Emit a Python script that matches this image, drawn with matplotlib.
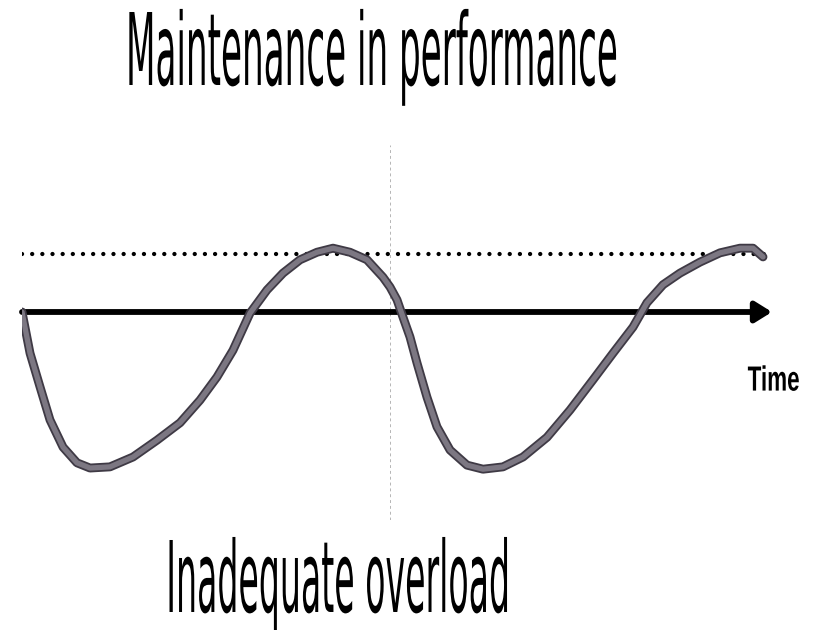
import matplotlib
matplotlib.use("Agg")
import matplotlib.pyplot as plt
import matplotlib.patheffects as pe
from matplotlib.transforms import Affine2D

# performance curve: time (0-100) vs performance relative to baseline (dotted level = 1)
time = [0, 1.07, 2.4, 3.73, 5.47, 7.33, 9.07, 11.73, 14.8, 18.0, 21.07, 23.73, 26.0,
        28.13, 30.4, 32.67, 34.8, 37.07, 39.33, 41.47, 43.73, 46.0, 48.13, 49.07,
        50.0, 50.8, 51.73, 52.67, 54.0, 55.33, 57.07, 59.33, 61.47, 64.13, 66.8,
        70.0, 73.07, 76.13, 78.8, 81.47, 83.33, 85.47, 87.73, 90.4, 93.07, 95.73,
        97.47, 98.8]
perf = [0, -0.71, -1.29, -1.86, -2.33, -2.6, -2.69, -2.67, -2.5, -2.21, -1.91,
        -1.52, -1.12, -0.66, -0.02, 0.38, 0.67, 0.9, 1.03, 1.1, 1.03, 0.9, 0.6,
        0.43, 0.21, -0.09, -0.43, -0.88, -1.47, -1.98, -2.38, -2.64, -2.71, -2.67,
        -2.5, -2.16, -1.69, -1.17, -0.71, -0.26, 0.16, 0.47, 0.67, 0.86, 1.02,
        1.1, 1.1, 0.95]

baseline = 0.0
target_level = 1.0
marker_time = 49.07

title = "Maintenance in performance"
bottom_label = "Inadequate overload"
axis_label = "Time"


class Stretch(pe.AbstractPathEffect):
    """Stretch glyphs vertically about the baseline (gives a tall, narrow face)."""
    def __init__(self, sy=1.0):
        super().__init__()
        self.sy = sy

    def draw_path(self, renderer, gc, tpath, affine, rgbFace=None):
        t = Affine2D().scale(1, self.sy) + affine
        renderer.draw_path(gc, tpath, t, rgbFace)


fig = plt.figure(figsize=(8.13, 6.3), dpi=100)
ax = fig.add_axes([22 / 813, 110 / 630, 750 / 813, 375 / 630])
ax.set_xlim(0, 100)
ax.set_ylim(-3.586, 2.879)
ax.axis("off")

# vertical faint dashed line
ax.axvline(marker_time, color="#b5b5b5", lw=0.7, ls=(0, (3, 3)), zorder=1)

# dotted target level
ax.plot([0, 99], [target_level, target_level], color="black", lw=3.1,
        ls=(0, (0.01, 2.35)), dash_capstyle="round", zorder=2)

# time axis with arrow
ax.annotate("", xy=(100, baseline), xytext=(0, baseline),
            arrowprops=dict(arrowstyle="-|>,head_length=0.45,head_width=0.28",
                            lw=4.2, color="black", mutation_scale=22,
                            shrinkA=0, shrinkB=0), zorder=3)

# performance curve
ax.plot(time, perf, color="#7c7782", lw=3.8, solid_joinstyle="round",
        solid_capstyle="round", zorder=4,
        path_effects=[pe.Stroke(linewidth=6.4, foreground="#3f3a45"), pe.Normal()])

t_time = ax.text(100.2, -1.26, axis_label, ha="center", va="center",
                 fontsize=25, fontweight="bold", family="Liberation Sans",
                 clip_on=False)
t_title = fig.text(372 / 813, 1 - 85 / 630, title, ha="center", va="baseline",
                   fontsize=72, family="DejaVu Sans")
t_bottom = fig.text(338 / 813, 1 - 612 / 630, bottom_label, ha="center",
                    va="baseline", fontsize=71, family="DejaVu Sans")

# fit each text to the width seen in the reference, then stretch it up to
# the cap height seen there
fig.canvas.draw()
renderer = fig.canvas.get_renderer()
for txt, width, cap_px, cap_ratio in [(t_title, 492, 73, 0.729),
                                      (t_bottom, 344, 72, 0.729),
                                      (t_time, 52, 25, 0.716)]:
    w = txt.get_window_extent(renderer).width
    size = txt.get_fontsize() * width / w
    txt.set_fontsize(size)
    natural_cap = cap_ratio * size * fig.dpi / 72
    txt.set_path_effects([Stretch(cap_px / natural_cap)])

fig.savefig("out.png", dpi=100, facecolor="white")
